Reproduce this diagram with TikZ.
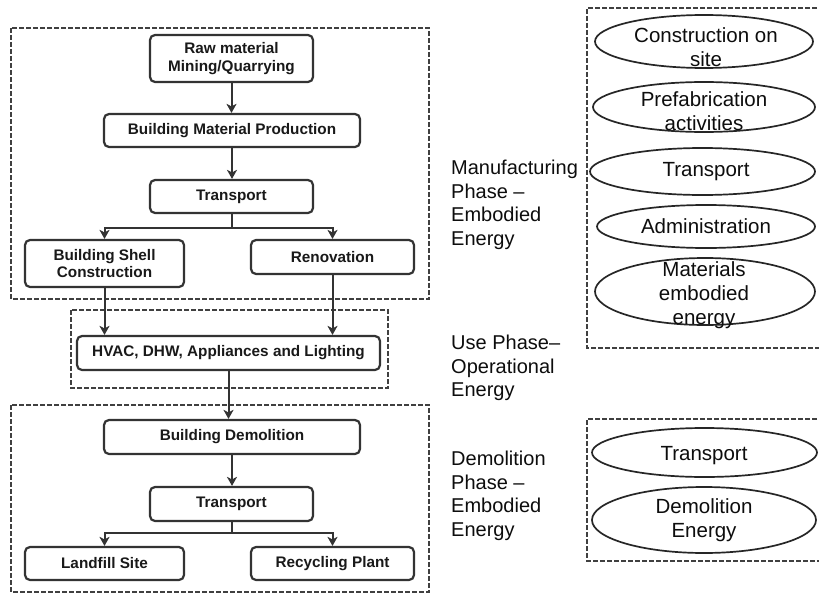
\documentclass[tikz,border=0pt]{standalone}
\usepackage{fontspec}
\setmainfont{Liberation Sans}
\usetikzlibrary{shapes.geometric,arrows.meta}

\begin{document}
\begin{tikzpicture}[x=1pt,y=-1pt,
  stepbox/.style={draw=black!80, line width=2.2pt, rounded corners=5pt, inner sep=0pt,
    align=center, text=black!90, font=\bfseries\fontsize{15.3}{17.5}\selectfont},
  phasebox/.style={draw=black!75, line width=1.6pt, dash pattern=on 5pt off 2pt},
  oval/.style={draw=black!85, line width=1.7pt, ellipse, inner sep=0pt},
  ovaltext/.style={align=center, inner sep=0pt, text=black!95, font=\fontsize{20.5}{24}\selectfont},
  phaselabel/.style={anchor=west, align=left, inner sep=0pt, text=black!95,
    font=\fontsize{20}{23.5}\selectfont},
  flow/.style={draw=black!80, line width=2pt, -{Stealth[length=9pt,width=10pt,inset=2.5pt]}}
]
\useasboundingbox (0,0) rectangle (819,594);
\fill[white] (0,0) rectangle (819,594);

% phase frames
\draw[phasebox] (11,28) rectangle (429,299);
\draw[phasebox] (71,310) rectangle (388,388);
\draw[phasebox] (11,405) rectangle (429,592);
\draw[phasebox] (824,8) -| (587,348) -- (824,348);
\draw[phasebox] (824,419) -| (587,561) -- (824,561);

% process steps
\node[stepbox, minimum width=163pt, minimum height=47pt] (raw)   at (231.5,58.5) {Raw material\\Mining/Quarrying};
\node[stepbox, minimum width=256pt, minimum height=33pt] (bmp)   at (232,130.5)  {Building Material Production};
\node[stepbox, minimum width=163pt, minimum height=33pt] (tr1)   at (231.5,196.5) {Transport};
\node[stepbox, minimum width=159pt, minimum height=47pt] (shell) at (104.5,263.5) {Building Shell\\Construction};
\node[stepbox, minimum width=163pt, minimum height=34pt] (reno)  at (332.5,257)  {Renovation};
\node[stepbox, minimum width=303pt, minimum height=34pt] (hvac)  at (228.5,353)  {HVAC, DHW, Appliances and Lighting};
\node[stepbox, minimum width=256pt, minimum height=34pt] (demo)  at (232,437)    {Building Demolition};
\node[stepbox, minimum width=163pt, minimum height=34pt] (tr2)   at (231.5,504)  {Transport};
\node[stepbox, minimum width=159pt, minimum height=33pt] (land)  at (104.5,563.5) {Landfill Site};
\node[stepbox, minimum width=163pt, minimum height=33pt] (recy)  at (332.5,563.5) {Recycling Plant};

% flow connectors
\draw[flow] (raw.south) -- (raw.south |- bmp.north);
\draw[flow] (bmp.south) -- (bmp.south |- tr1.north);
\draw[flow] (tr1.south) -- ++(0,14) -| (shell.north);
\draw[flow] (tr1.south) -- ++(0,14) -| (reno.north);
\draw[flow] (shell.south) -- (shell.south |- hvac.north);
\draw[flow] (reno.south) -- (reno.south |- hvac.north);
\draw[flow] (hvac.south) -- (hvac.south |- demo.north);
\draw[flow] (demo.south) -- (demo.south |- tr2.north);
\draw[flow] (tr2.south) -- ++(0,11) -| (land.north);
\draw[flow] (tr2.south) -- ++(0,11) -| (recy.north);

% phase labels
\node[phaselabel] (lab1) at (451,205) {Manufacturing\\Phase –\\Embodied\\Energy};
\node[phaselabel] (lab2) at (451,368) {Use Phase–\\Operational\\Energy};
\node[phaselabel] (lab3) at (451,496) {Demolition\\Phase –\\Embodied\\Energy};

% energy components
\node[oval, minimum width=218pt, minimum height=53pt] (e1) at (704,41.5) {};
\node[oval, minimum width=222pt, minimum height=50pt] (e2) at (704,107) {};
\node[oval, minimum width=225pt, minimum height=47pt] (e3) at (702.5,171.5) {};
\node[oval, minimum width=218pt, minimum height=43pt] (e4) at (706,226.5) {};
\node[oval, minimum width=220pt, minimum height=67pt] (e5) at (705,291.5) {};
\node[oval, minimum width=225pt, minimum height=49pt] (e6) at (704.5,452.5) {};
\node[oval, minimum width=224pt, minimum height=66pt] (e7) at (704,520) {};

\node[ovaltext] (e1t) at (706,47) {Construction on\\site};
\node[ovaltext] (e2t) at (704,111) {Prefabrication\\activities};
\node[ovaltext] (e3t) at (706,172) {Transport};
\node[ovaltext] (e4t) at (706,226) {Administration};
\node[ovaltext] (e5t) at (704,295) {Materials\\embodied\\energy};
\node[ovaltext] (e6t) at (704,456) {Transport};
\node[ovaltext] (e7t) at (704,520) {Demolition\\Energy};
\end{tikzpicture}
\end{document}
